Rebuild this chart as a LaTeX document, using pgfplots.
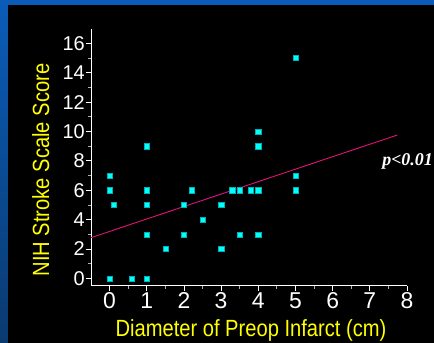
\documentclass[border=0pt]{standalone}
\usepackage{fontspec}
\setmainfont{Liberation Sans}
\newfontfamily\narrowfont{Liberation Sans}[FakeStretch=0.86]
\newfontfamily\timesfont{Liberation Serif}
\usepackage{pgfplots}
\pgfplotsset{compat=1.18}
\definecolor{bgblue}{HTML}{0A5CB8}
\definecolor{bgdark}{HTML}{0A3A70}
\definecolor{regline}{HTML}{E0147A}
\definecolor{ptcyan}{HTML}{00FFFF}
\definecolor{labyellow}{HTML}{FFFF00}
\begin{document}
\begin{tikzpicture}
\fill[bgblue] (0,0) rectangle (434bp,343bp);
\shade[top color=bgblue, bottom color=bgdark] (0,0) rectangle (8bp,343bp);
\fill[black] (8bp,0) rectangle (434bp,338bp);
\begin{axis}[
  at={(91bp,57.3bp)}, anchor=south west,
  scale only axis, width=316bp, height=257bp,
  xmin=-0.5, xmax=8, ymin=-0.5, ymax=17,
  axis lines*=left,
  axis line style={white, line width=0.8pt, -},
  xtick={0,1,...,8}, ytick={0,2,...,16},
  minor x tick num=1, minor y tick num=1,
  tick align=outside, major tick length=5bp, minor tick length=3bp,
  major tick style={white, line width=0.8pt},
  minor tick style={white!70!black, line width=0.8pt},
  /pgf/number format/assume math mode=true,
  xticklabel style={font=\fontsize{23}{26}\selectfont, text=white, inner sep=1.5bp},
  yticklabel style={font=\fontsize{20}{24}\selectfont, text=white, inner sep=1bp},
  clip=false,
]
\addplot[regline, line width=0.9pt] coordinates {(-0.5,2.77) (7.74,9.76)};
\addplot[only marks, mark=square*, mark size=2.6bp,
  mark options={fill=ptcyan, draw=ptcyan!70!black, line width=0.4pt}]
  table[row sep=\\] {
  x y \\
  0 7 \\ 0 6 \\ 0.1 5 \\ 0 0 \\ 0.6 0 \\ 1 0 \\ 1 9 \\ 1 6 \\ 1 5 \\ 1 3 \\
  1.5 2 \\ 2 5 \\ 2 3 \\ 2.2 6 \\ 2.5 4 \\ 3 5 \\ 3 2 \\ 3.3 6 \\ 3.5 6 \\
  3.5 3 \\ 3.8 6 \\ 4 6 \\ 4 10 \\ 4 9 \\ 4 3 \\ 5 15 \\ 5 7 \\ 5 6 \\
  };
\node[anchor=west, inner sep=0pt, text=white, font=\timesfont\bfseries\itshape\fontsize{18}{20}\selectfont]
  at (axis cs:7.33,7.95) {p<0.01};
\end{axis}
\node[anchor=base, inner sep=0pt, text=labyellow, font=\narrowfont\fontsize{23.5}{26}\selectfont]
  at (251bp,7bp) {Diameter of Preop Infarct (cm)};
\node[rotate=90, anchor=base, inner sep=0pt, text=labyellow, font=\narrowfont\fontsize{23.5}{26}\selectfont]
  at (49bp,173bp) {NIH Stroke Scale Score};
\pgfresetboundingbox
\path[use as bounding box] (0,0) rectangle (434bp,343bp);
\end{tikzpicture}
\end{document}
